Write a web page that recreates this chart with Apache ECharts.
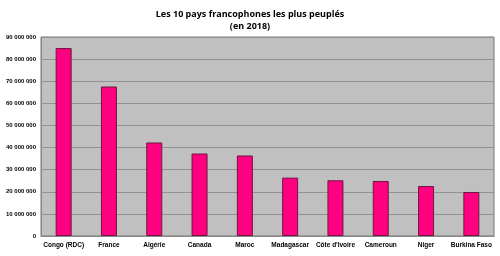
<!DOCTYPE html>
<html><head><meta charset="utf-8">
<script src="https://cdn.jsdelivr.net/npm/echarts@6/dist/echarts.min.js"></script>
<style>html,body{margin:0;padding:0;background:#fff}#c{width:500px;height:256px}</style>
</head><body><div id="c"></div>
<script>
const categories = ['Congo (RDC)','France','Algérie','Canada','Maroc','Madagascar',"Côte d'Ivoire",'Cameroun','Niger','Burkina Faso'];
const population = [85000000,67600000,42300000,37300000,36400000,26400000,25200000,24900000,22600000,19900000];
const titleLines = ['Les 10 pays francophones les plus peuplés','(en 2018)'];

const chart = echarts.init(document.getElementById('c'), null, {renderer:'canvas'});
chart.setOption({
  animation:false,
  backgroundColor:'#fff',
  title:{text:titleLines.join('\n'), left:'center', top:3,
    textStyle:{fontFamily:'Open Sans', fontWeight:'bold', fontSize:9, lineHeight:12, color:'#000'}},
  grid:{left:41, right:6, top:37, bottom:20, show:true, backgroundColor:'#c0c0c0', borderColor:'#777', borderWidth:1},
  xAxis:{type:'category', data:categories,
    axisLine:{show:true, lineStyle:{color:'#888'}}, axisTick:{show:false},
    axisLabel:{fontFamily:'Liberation Sans', fontWeight:'bold', fontSize:6.5, color:'#000', margin:6, interval:0}},
  yAxis:{type:'value', min:0, max:90000000, interval:10000000,
    axisLine:{show:true, lineStyle:{color:'#888'}}, axisTick:{show:false},
    splitLine:{lineStyle:{color:'#929292', width:1}},
    axisLabel:{fontFamily:'Liberation Sans', fontWeight:'bold', fontSize:6, color:'#000', margin:5,
      formatter:v=>String(v).replace(/\B(?=(\d{3})+(?!\d))/g,' ')}},
  series:[{type:'bar', data:population, barWidth:16,
    itemStyle:{color:'#ff0080', borderColor:'#70163f', borderWidth:1}}]
});
</script></body></html>
